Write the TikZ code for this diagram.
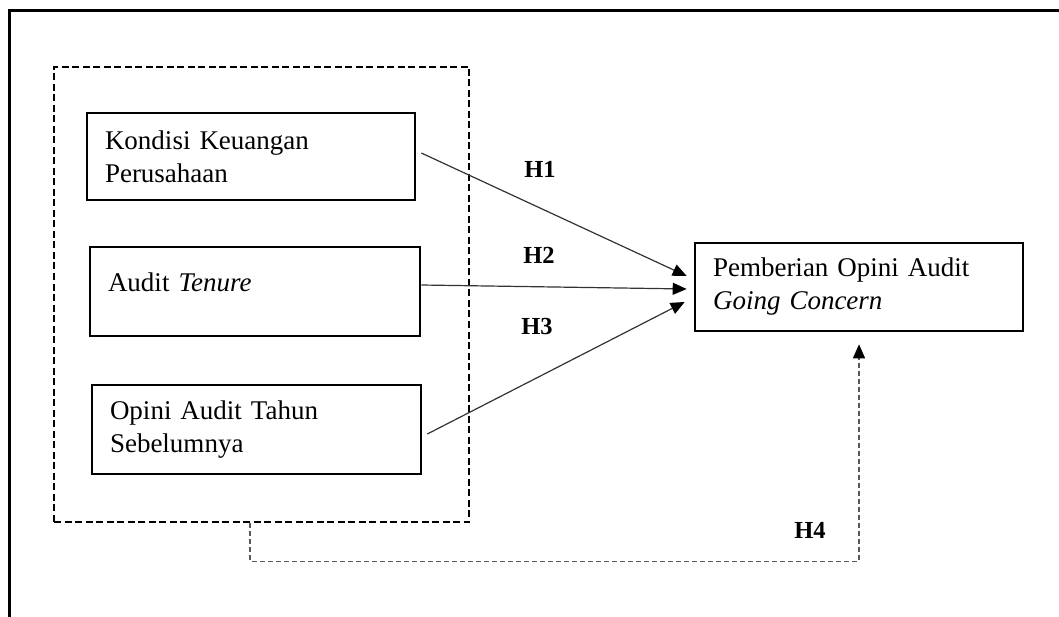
\documentclass[tikz,border=0pt]{standalone}
\usepackage{fontspec}
\setmainfont{Liberation Serif}
\usetikzlibrary{arrows.meta,calc}
\tikzset{
  varbox/.style={draw=black, line width=2.6pt, inner xsep=18pt, inner ysep=0pt,
    align=left, font=\fontsize{27}{33}\selectfont},
  grpbox/.style={draw=black, line width=2.4pt, dash pattern=on 7pt off 3.5pt},
  hyparrow/.style={draw=black!80, line width=1.2pt, -{Triangle[length=14pt,width=12pt,color=black]}},
  hfour/.style={draw=black!65, line width=1.4pt, dash pattern=on 5pt off 3pt, -{Triangle[length=14pt,width=12pt,color=black]}},
  hlabel/.style={font=\fontsize{24.5}{28}\selectfont\bfseries, inner sep=0pt},
  frameline/.style={line width=3pt}
}
\begin{document}
\begin{tikzpicture}[x=1pt,y=-1pt]
\useasboundingbox (0,0) rectangle (1059,617);
\draw[frameline] (9,617) -- (9,11) -- (1059,11);

\node[grpbox, minimum width=415pt, minimum height=455pt] (grp) at (261.5,294.5) {};

\node[varbox, text width=292pt, minimum height=87pt] (b1) at (251,156.5) {Kondisi Keuangan\\Perusahaan};
\node[varbox, text width=294pt, minimum height=89pt, text height=19pt, text depth=18pt] (b2) at (255,291.5) {Audit \textit{Tenure}};
\node[varbox, text width=293pt, minimum height=89pt] (b3) at (256.5,429.5) {Opini Audit Tahun\\Sebelumnya};
\node[varbox, text width=292pt, minimum height=88pt] (t) at (859,287) {Pemberian Opini Audit\\\textit{Going Concern}};

\draw[hyparrow] ($(b1.east)+(5,-3.5)$) -- ($(t.west)+(-7,-11)$);
\draw[hyparrow] ($(b2.east)+(0,-6.5)$) -- ($(t.west)+(-7,2)$);
\draw[hyparrow] ($(b3.east)+(5,4.5)$) -- ($(t.west)+(-9,15)$);

\node[hlabel] (h1) at (540,169) {H1};
\node[hlabel] (h2) at (539,255) {H2};
\node[hlabel] (h3) at (537,327) {H3};
\node[hlabel] (h4) at (810,530) {H4};

\coordinate (h4end) at ($(t.south)+(0,12)$);
\draw[hfour] ($(grp.south)+(-11.5,0)$) -- ++(0,38) -| (h4end);
\end{tikzpicture}
\end{document}
